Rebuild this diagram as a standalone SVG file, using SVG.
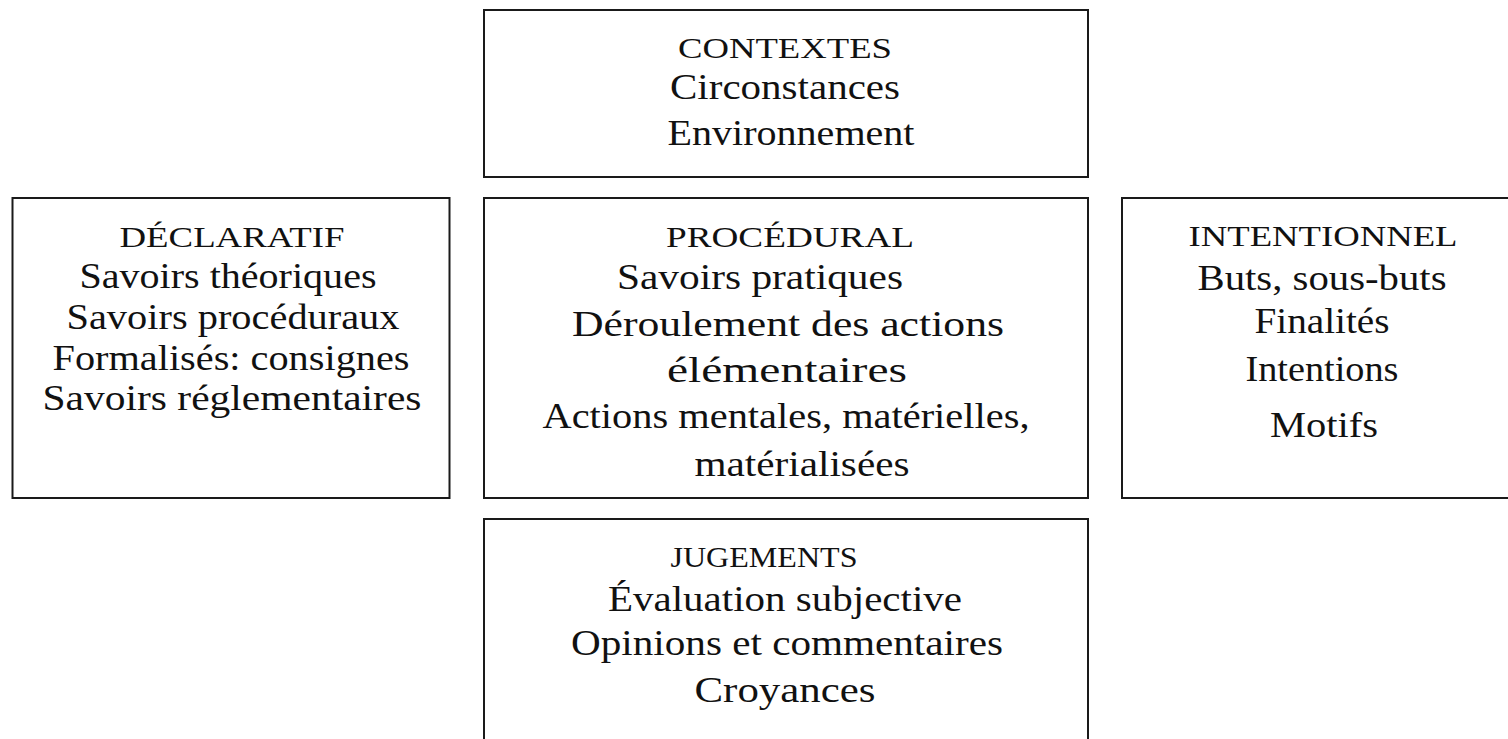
<svg xmlns="http://www.w3.org/2000/svg" width="1508" height="739" viewBox="0 0 1508 739">
<style>
.box{fill:#fff;stroke:#1a1a1a;stroke-width:2}
</style>
<rect x="0" y="0" width="1508" height="739" fill="#fff"/>
<g id="connectors"></g>
<g id="contextes">
<rect class="box" x="484" y="10" width="604" height="167"/>
<text font-family="'Liberation Serif', serif" font-size="30" fill="#111" text-anchor="middle" x="785" y="58" textLength="214" lengthAdjust="spacingAndGlyphs">CONTEXTES</text>
<text font-family="'Liberation Serif', serif" font-size="36" fill="#111" text-anchor="middle" x="785" y="99" textLength="230" lengthAdjust="spacingAndGlyphs">Circonstances</text>
<text font-family="'Liberation Serif', serif" font-size="36" fill="#111" text-anchor="middle" x="791" y="145" textLength="247" lengthAdjust="spacingAndGlyphs">Environnement</text>
</g>
<g id="declaratif">
<rect class="box" x="12.5" y="198" width="437" height="300"/>
<text font-family="'Liberation Serif', serif" font-size="30" fill="#111" text-anchor="middle" x="232" y="247" textLength="225" lengthAdjust="spacingAndGlyphs">DÉCLARATIF</text>
<text font-family="'Liberation Serif', serif" font-size="36" fill="#111" text-anchor="middle" x="228" y="288" textLength="297" lengthAdjust="spacingAndGlyphs">Savoirs théoriques</text>
<text font-family="'Liberation Serif', serif" font-size="36" fill="#111" text-anchor="middle" x="233" y="329" textLength="333" lengthAdjust="spacingAndGlyphs">Savoirs procéduraux</text>
<text font-family="'Liberation Serif', serif" font-size="36" fill="#111" text-anchor="middle" x="231" y="370" textLength="357" lengthAdjust="spacingAndGlyphs">Formalisés: consignes</text>
<text font-family="'Liberation Serif', serif" font-size="36" fill="#111" text-anchor="middle" x="232" y="410" textLength="379" lengthAdjust="spacingAndGlyphs">Savoirs réglementaires</text>
</g>
<g id="procedural">
<rect class="box" x="484" y="198" width="604" height="300"/>
<text font-family="'Liberation Serif', serif" font-size="30" fill="#111" text-anchor="middle" x="790" y="247" textLength="248" lengthAdjust="spacingAndGlyphs">PROCÉDURAL</text>
<text font-family="'Liberation Serif', serif" font-size="36" fill="#111" text-anchor="middle" x="760" y="289" textLength="286" lengthAdjust="spacingAndGlyphs">Savoirs pratiques</text>
<text font-family="'Liberation Serif', serif" font-size="36" fill="#111" text-anchor="middle" x="788" y="336" textLength="432" lengthAdjust="spacingAndGlyphs">Déroulement des actions</text>
<text font-family="'Liberation Serif', serif" font-size="36" fill="#111" text-anchor="middle" x="787" y="382" textLength="240" lengthAdjust="spacingAndGlyphs">élémentaires</text>
<text font-family="'Liberation Serif', serif" font-size="36" fill="#111" text-anchor="middle" x="786" y="428" textLength="487" lengthAdjust="spacingAndGlyphs">Actions mentales, matérielles,</text>
<text font-family="'Liberation Serif', serif" font-size="36" fill="#111" text-anchor="middle" x="802" y="476" textLength="215" lengthAdjust="spacingAndGlyphs">matérialisées</text>
</g>
<g id="intentionnel">
<rect class="box" x="1122" y="198" width="400" height="300"/>
<text font-family="'Liberation Serif', serif" font-size="30" fill="#111" text-anchor="middle" x="1323" y="246" textLength="269" lengthAdjust="spacingAndGlyphs">INTENTIONNEL</text>
<text font-family="'Liberation Serif', serif" font-size="36" fill="#111" text-anchor="middle" x="1322" y="290" textLength="249" lengthAdjust="spacingAndGlyphs">Buts, sous-buts</text>
<text font-family="'Liberation Serif', serif" font-size="36" fill="#111" text-anchor="middle" x="1322" y="333" textLength="135" lengthAdjust="spacingAndGlyphs">Finalités</text>
<text font-family="'Liberation Serif', serif" font-size="36" fill="#111" text-anchor="middle" x="1322" y="381" textLength="153" lengthAdjust="spacingAndGlyphs">Intentions</text>
<text font-family="'Liberation Serif', serif" font-size="36" fill="#111" text-anchor="middle" x="1324" y="437" textLength="108" lengthAdjust="spacingAndGlyphs">Motifs</text>
</g>
<g id="jugements">
<rect class="box" x="484" y="519" width="604" height="240"/>
<text font-family="'Liberation Serif', serif" font-size="30" fill="#111" text-anchor="middle" x="764" y="567" textLength="187" lengthAdjust="spacingAndGlyphs">JUGEMENTS</text>
<text font-family="'Liberation Serif', serif" font-size="36" fill="#111" text-anchor="middle" x="785" y="611" textLength="354" lengthAdjust="spacingAndGlyphs">Évaluation subjective</text>
<text font-family="'Liberation Serif', serif" font-size="36" fill="#111" text-anchor="middle" x="787" y="655" textLength="432" lengthAdjust="spacingAndGlyphs">Opinions et commentaires</text>
<text font-family="'Liberation Serif', serif" font-size="36" fill="#111" text-anchor="middle" x="785" y="702" textLength="181" lengthAdjust="spacingAndGlyphs">Croyances</text>
</g>
</svg>
